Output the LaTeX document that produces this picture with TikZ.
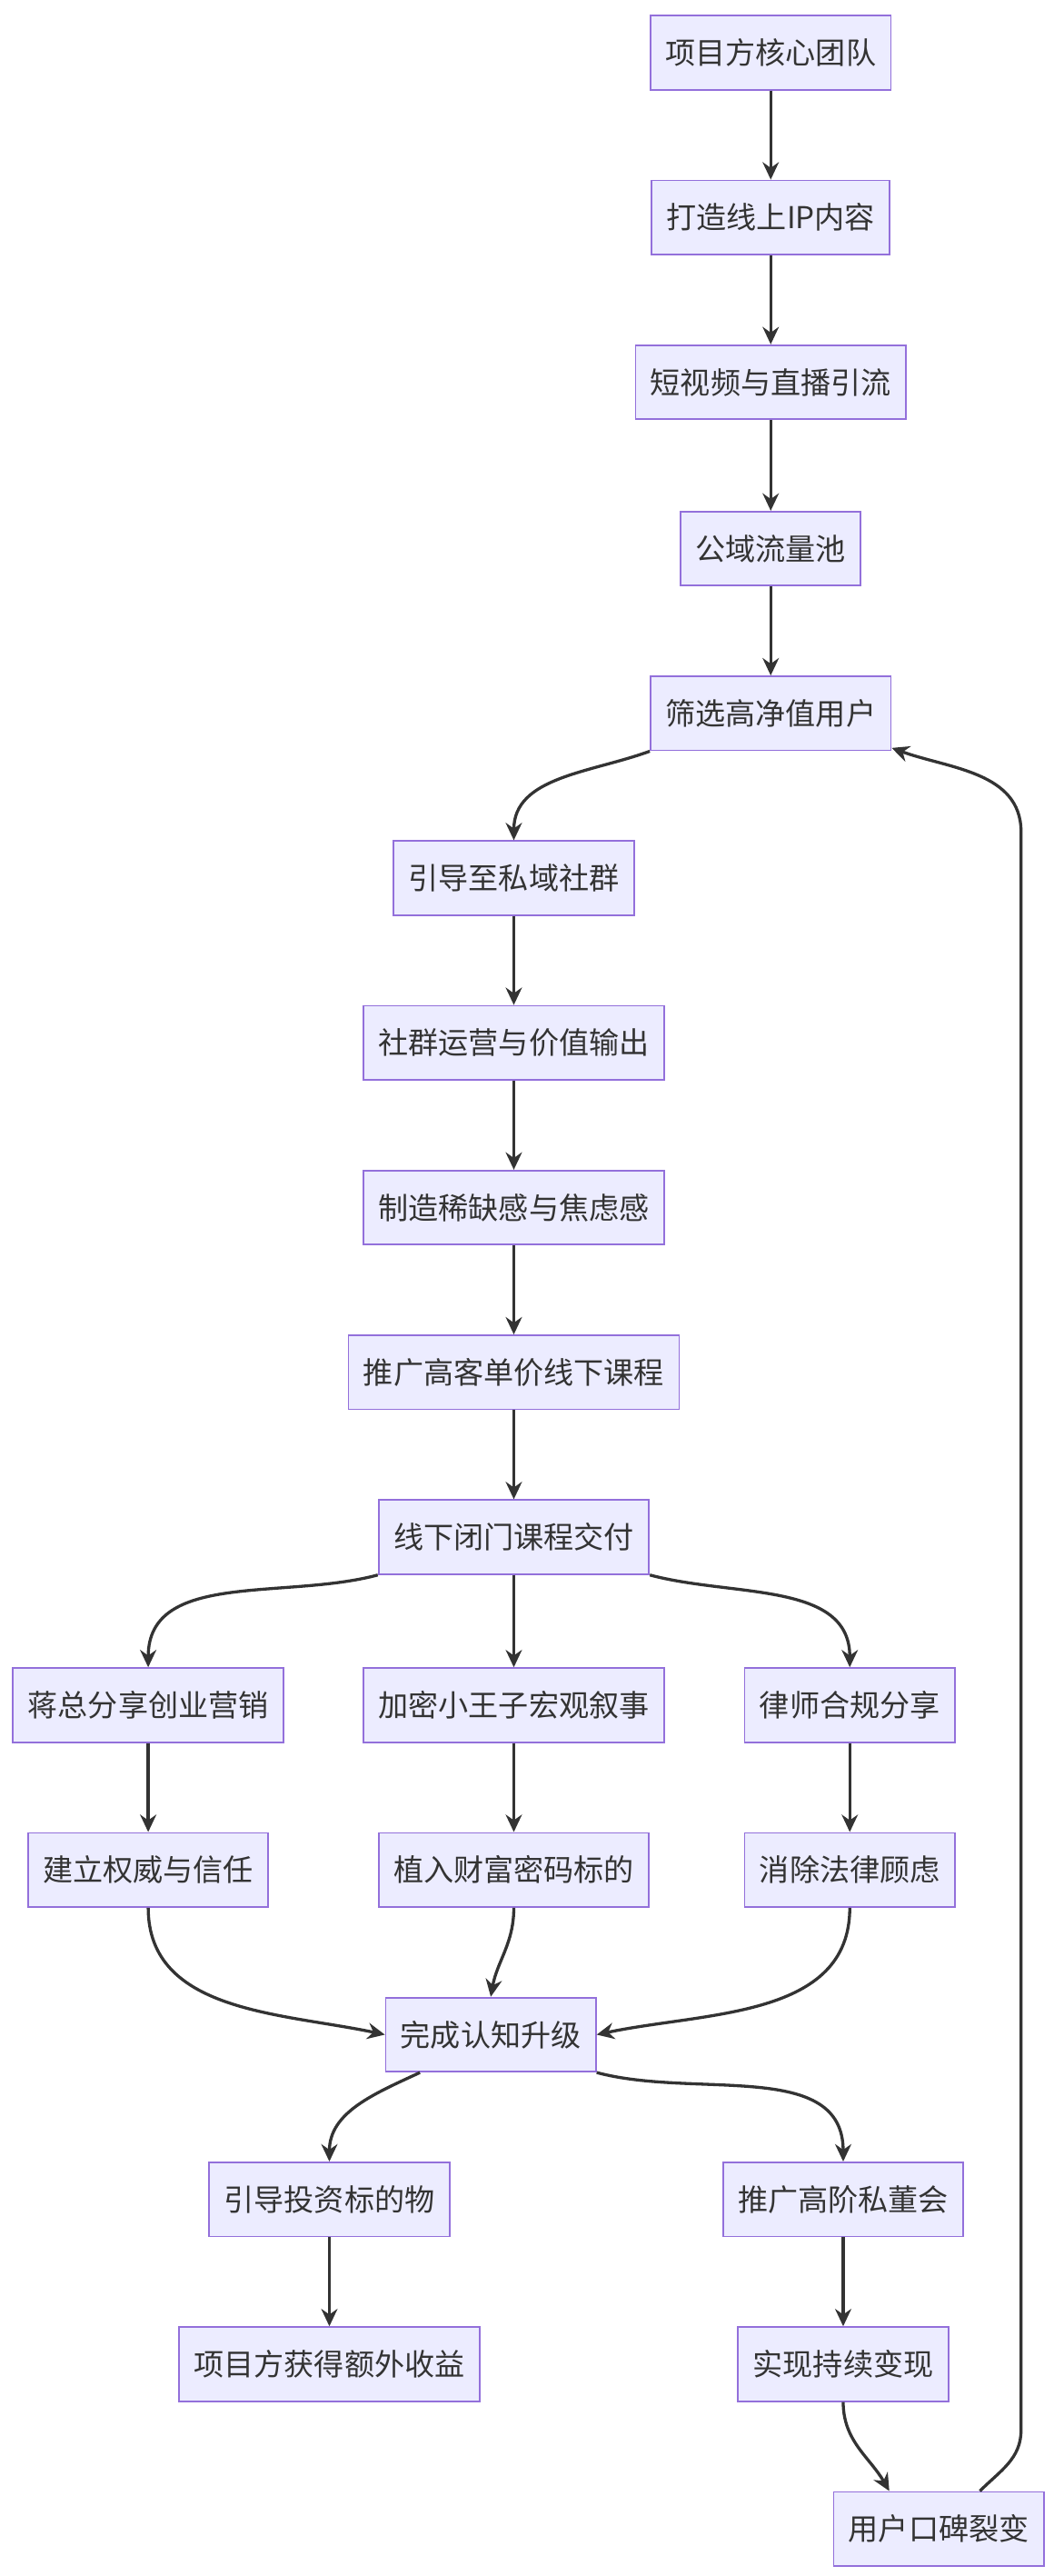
\documentclass[tikz,border=0pt]{standalone}
\usepackage{fontspec}
\setmainfont{Noto Sans CJK SC}
\usepackage{xcolor}
\usetikzlibrary{arrows.meta,positioning,calc}
\definecolor{boxfill}{HTML}{ECECFF}
\definecolor{boxline}{HTML}{9370DB}
\definecolor{arrline}{HTML}{333333}

\begin{document}
\begin{tikzpicture}[
  x=0.05cm, y=-0.05cm,
  >={Stealth[length=15pt,width=14pt]},
  box/.style={draw=boxline, fill=boxfill, line width=1.4pt, minimum height=2.25cm,
    inner xsep=0.45cm, font=\fontsize{26}{30}\selectfont, text=arrline},
  arr/.style={->, line width=2.6pt, draw=arrline}
]
\useasboundingbox (0,0) rectangle (640,1563.6);

\node[box] (A)  at (468,32)   {项目方核心团队};
\node[box] (B)  at (468,132)  {打造线上IP内容};
\node[box] (C)  at (468,232)  {短视频与直播引流};
\node[box] (D)  at (468,333)  {公域流量池};
\node[box] (E)  at (468,433)  {筛选高净值用户};
\node[box] (F)  at (312,533)  {引导至私域社群};
\node[box] (G)  at (312,633)  {社群运营与价值输出};
\node[box] (H)  at (312,733)  {制造稀缺感与焦虑感};
\node[box] (I)  at (312,833)  {推广高客单价线下课程};
\node[box] (J)  at (312,933)  {线下闭门课程交付};
\node[box] (K1) at (90,1035)  {蒋总分享创业营销};
\node[box] (K2) at (312,1035) {加密小王子宏观叙事};
\node[box] (K3) at (516,1035) {律师合规分享};
\node[box] (L1) at (90,1135)  {建立权威与信任};
\node[box] (L2) at (312,1135) {植入财富密码标的};
\node[box] (L3) at (516,1135) {消除法律顾虑};
\node[box] (M)  at (298,1235) {完成认知升级};
\node[box] (N1) at (200,1335) {引导投资标的物};
\node[box] (N2) at (512,1335) {推广高阶私董会};
\node[box] (O1) at (200,1435) {项目方获得额外收益};
\node[box] (O2) at (512,1435) {实现持续变现};
\node[box] (P)  at (570,1535) {用户口碑裂变};

\coordinate (loopB) at (620,1475);
\coordinate (loopT) at (620,505);

% main chain
\draw[arr] (A) -- (B);
\draw[arr] (B) -- (C);
\draw[arr] (C) -- (D);
\draw[arr] (D) -- (E);
\draw[arr] (E.south west) to[out=200,in=90] (F.north);
\draw[arr] (F) -- (G);
\draw[arr] (G) -- (H);
\draw[arr] (H) -- (I);
\draw[arr] (I) -- (J);

% three branches
\draw[arr] (J.south west) to[out=195,in=90] (K1.north);
\draw[arr] (J) -- (K2);
\draw[arr] (J.south east) to[out=-15,in=90] (K3.north);
\draw[arr] (K1) -- (L1);
\draw[arr] (K2) -- (L2);
\draw[arr] (K3) -- (L3);
\draw[arr] (L1.south) to[out=-90,in=168] (M.west);
\draw[arr] (L2.south) to[out=-90,in=80] (M.north);
\draw[arr] (L3.south) to[out=-90,in=12] (M.east);

% outcomes
\draw[arr] ($(M.south)+(-43,0)$) to[out=205,in=90] (N1.north);
\draw[arr] (M.south east) to[out=-15,in=90] (N2.north);
\draw[arr] (N1) -- (O1);
\draw[arr] (N2) -- (O2);
\draw[arr] (O2.south) to[out=-90,in=120] ($(P.north)+(-30,0)$);
\draw[arr] ($(P.north)+(25,0)$) to[out=45,in=-90] (loopB) -- (loopT)
  to[out=90,in=-20] ($(E.south east)+(0,-2)$);
\end{tikzpicture}
\end{document}
